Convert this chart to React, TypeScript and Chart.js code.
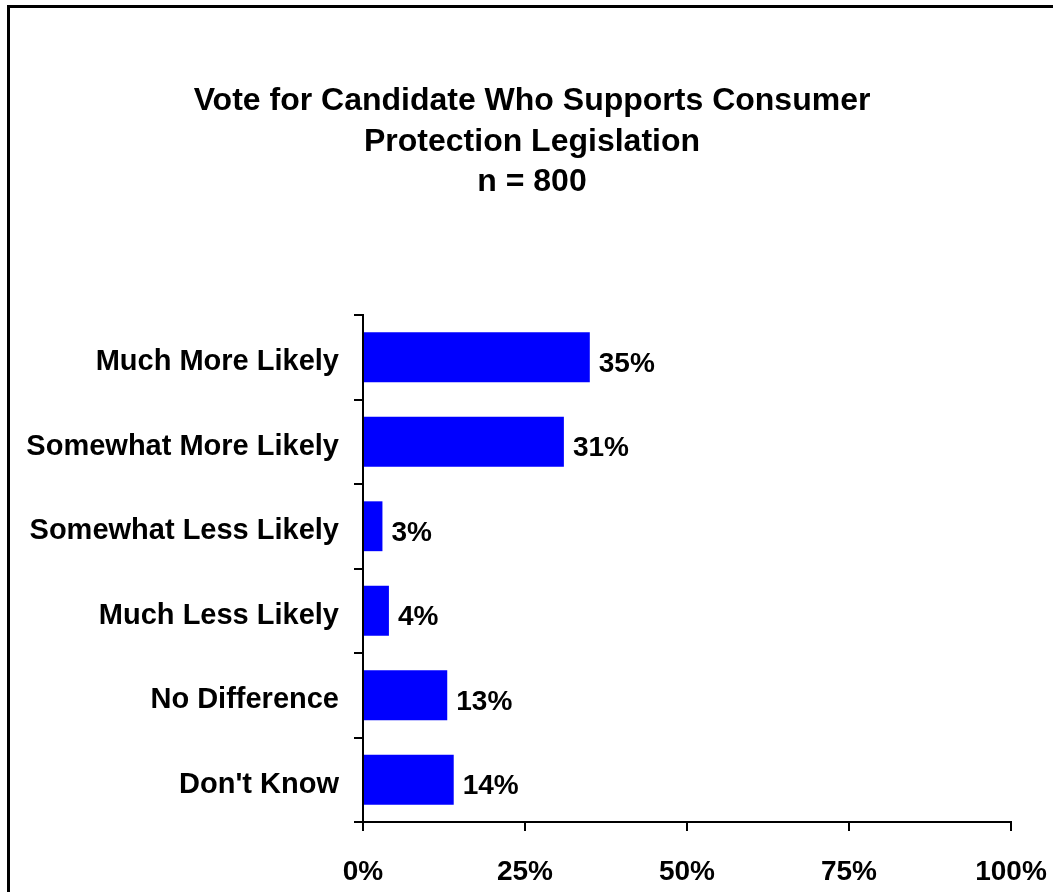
import React, { useEffect, useRef } from "react";
import { Chart, registerables } from "chart.js";

Chart.register(...registerables);

const TITLE_LINES = [
  "Vote for Candidate Who Supports Consumer",
  "Protection Legislation",
  "n = 800",
];
const CATEGORIES = [
  "Much More Likely",
  "Somewhat More Likely",
  "Somewhat Less Likely",
  "Much Less Likely",
  "No Difference",
  "Don't Know",
];
const VALUES = [35, 31, 3, 4, 13, 14];
const X_TICKS = [0, 25, 50, 75, 100];

const FONT = "'Liberation Sans', Arial, sans-serif";

const framePlugin = {
  id: "frame",
  beforeDraw(chart: any) {
    const ctx = chart.ctx;
    ctx.save();
    ctx.fillStyle = "#ffffff";
    ctx.fillRect(0, 0, chart.width, chart.height);
    ctx.fillStyle = "#000000";
    ctx.fillRect(7, 5, 3, chart.height);
    ctx.fillRect(7, 5, chart.width, 3);
    ctx.restore();
  },
};

const titlePlugin = {
  id: "titleLines",
  afterDraw(chart: any) {
    const ctx = chart.ctx;
    ctx.save();
    ctx.fillStyle = "#000000";
    ctx.font = `bold 32px ${FONT}`;
    ctx.textAlign = "center";
    ctx.textBaseline = "alphabetic";
    const baselines = [110, 151, 191];
    TITLE_LINES.forEach((t, i) => ctx.fillText(t, 532, baselines[i]));
    ctx.restore();
  },
};

const valueLabelPlugin = {
  id: "valueLabels",
  afterDatasetsDraw(chart: any) {
    const ctx = chart.ctx;
    const meta = chart.getDatasetMeta(0);
    ctx.save();
    ctx.fillStyle = "#000000";
    ctx.font = `bold 28px ${FONT}`;
    ctx.textAlign = "left";
    ctx.textBaseline = "middle";
    meta.data.forEach((bar: any, i: number) => {
      ctx.fillText(`${VALUES[i]}%`, bar.x + 9, bar.y + 7);
    });
    ctx.restore();
  },
};

export default function App() {
  const ref = useRef<HTMLCanvasElement | null>(null);

  useEffect(() => {
    if (!ref.current) return;
    const chart = new Chart(ref.current, {
      type: "bar",
      data: {
        labels: CATEGORIES,
        datasets: [
          {
            data: VALUES,
            backgroundColor: "#0000FF",
            borderWidth: 0,
            barPercentage: 0.59,
            categoryPercentage: 1,
          },
        ],
      },
      options: {
        indexAxis: "y",
        responsive: false,
        animation: false,
        devicePixelRatio: 1,
        layout: { padding: { top: 315, right: 42, bottom: 0, left: 0 } },
        plugins: {
          legend: { display: false },
          title: { display: false },
          tooltip: { enabled: false },
        },
        scales: {
          x: {
            type: "linear",
            min: 0,
            max: 100,
            afterBuildTicks(scale: any) {
              scale.ticks = X_TICKS.map((v) => ({ value: v }));
            },
            afterFit(scale: any) {
              scale.height = 70;
              scale.paddingLeft = 0;
              scale.paddingRight = 0;
            },
            ticks: {
              color: "#000000",
              font: { family: FONT, size: 28, weight: "bold" },
              padding: 24,
              maxRotation: 0,
              callback: (v: any) => `${v}%`,
            },
            grid: {
              drawOnChartArea: false,
              drawTicks: true,
              tickLength: 9,
              color: "#000000",
              lineWidth: 2,
            },
            border: { display: true, color: "#000000", width: 2 },
          },
          y: {
            type: "category",
            afterFit(scale: any) {
              scale.width = 363;
              scale.paddingTop = 0;
              scale.paddingBottom = 0;
            },
            ticks: {
              color: "#000000",
              font: { family: FONT, size: 29, weight: "bold" },
              padding: 15,
              labelOffset: 5,
            },
            grid: {
              offset: true,
              drawOnChartArea: false,
              drawTicks: true,
              tickLength: 9,
              color: "#000000",
              lineWidth: 2,
            },
            border: { display: true, color: "#000000", width: 2 },
          },
        },
      },
      plugins: [framePlugin, titlePlugin, valueLabelPlugin],
    });
    return () => chart.destroy();
  }, []);

  return (
    <div
      style={{
        position: "fixed",
        left: 0,
        top: 0,
        width: 1053,
        height: 892,
        overflow: "hidden",
        background: "#ffffff",
      }}
    >
      <canvas ref={ref} width={1053} height={892} style={{ display: "block" }} />
    </div>
  );
}
